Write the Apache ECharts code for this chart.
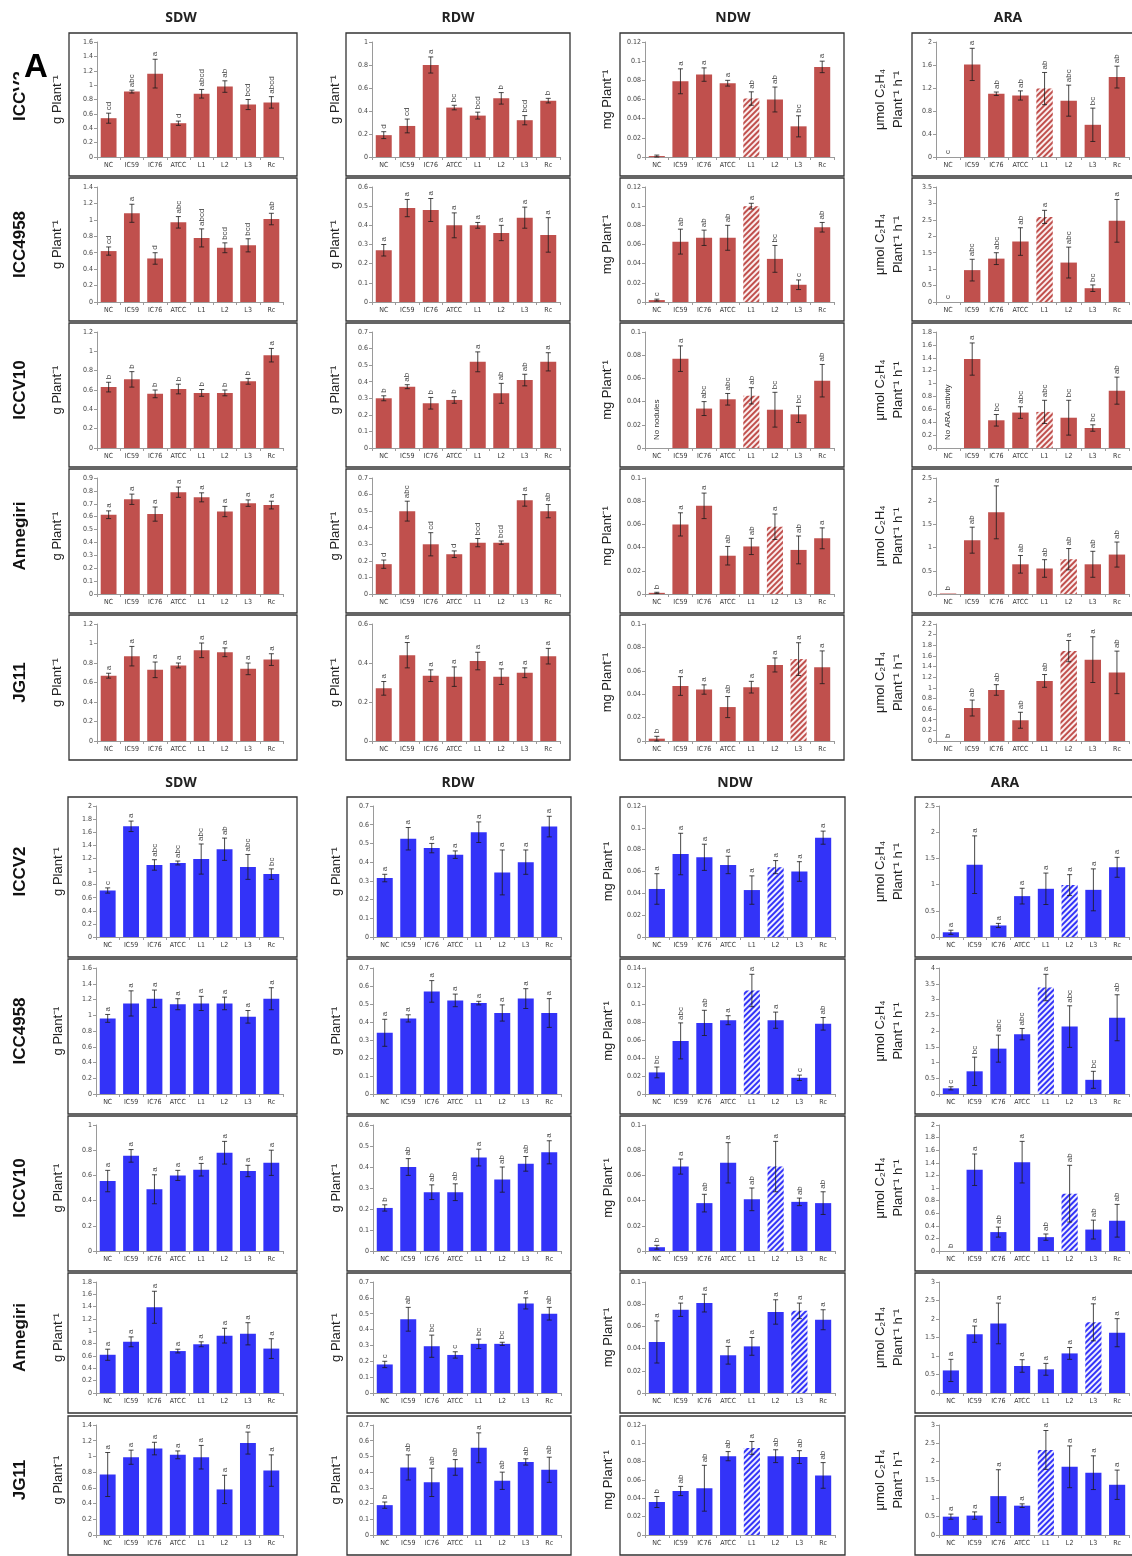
<!DOCTYPE html>
<html>
<head>
<meta charset="utf-8">
<script src="https://cdn.jsdelivr.net/npm/echarts@6/dist/echarts.min.js"></script>
<style>
html,body{margin:0;padding:0;background:#fff;}
#chart{width:1132px;height:1556px;}
</style>
</head>
<body>
<div id="chart"></div>
<script>
// Treatments on every x axis
const categories = ['NC', 'IC59', 'IC76', 'ATCC', 'L1', 'L2', 'L3', 'Rc'];
const genotypes = ['ICCV2', 'ICC4958', 'ICCV10', 'Annegiri', 'JG11'];
const traits = ['SDW', 'RDW', 'NDW', 'ARA'];

// ---------- upper block (red) : one row per genotype ----------
const sdwTopMean = [
  [0.54, 0.91, 1.16, 0.47, 0.88, 0.98, 0.73, 0.76],
  [0.62, 1.08, 0.53, 0.97, 0.78, 0.66, 0.69, 1.01],
  [0.63, 0.71, 0.56, 0.61, 0.57, 0.57, 0.69, 0.96],
  [0.615, 0.735, 0.62, 0.79, 0.75, 0.64, 0.705, 0.69],
  [0.67, 0.87, 0.73, 0.775, 0.93, 0.91, 0.74, 0.835]
];
const sdwTopErr = [
  [0.07, 0.02, 0.2, 0.03, 0.06, 0.08, 0.07, 0.08],
  [0.05, 0.11, 0.07, 0.07, 0.11, 0.06, 0.08, 0.07],
  [0.05, 0.08, 0.04, 0.05, 0.035, 0.03, 0.03, 0.07],
  [0.03, 0.04, 0.055, 0.04, 0.035, 0.04, 0.025, 0.03],
  [0.025, 0.1, 0.08, 0.025, 0.075, 0.045, 0.06, 0.06]
];
const sdwTopSig = [
  ['cd', 'abc', 'a', 'd', 'abcd', 'ab', 'bcd', 'abcd'],
  ['cd', 'a', 'd', 'abc', 'abcd', 'bcd', 'bcd', 'ab'],
  ['b', 'b', 'b', 'b', 'b', 'b', 'b', 'a'],
  ['a', 'a', 'a', 'a', 'a', 'a', 'a', 'a'],
  ['a', 'a', 'a', 'a', 'a', 'a', 'a', 'a']
];

const rdwTopMean = [
  [0.19, 0.27, 0.80, 0.43, 0.36, 0.51, 0.32, 0.49],
  [0.27, 0.49, 0.48, 0.40, 0.40, 0.36, 0.44, 0.35],
  [0.30, 0.37, 0.27, 0.29, 0.52, 0.33, 0.41, 0.52],
  [0.18, 0.50, 0.30, 0.24, 0.31, 0.31, 0.565, 0.50],
  [0.27, 0.44, 0.335, 0.33, 0.41, 0.33, 0.35, 0.435]
];
const rdwTopErr = [
  [0.03, 0.06, 0.07, 0.02, 0.03, 0.05, 0.04, 0.02],
  [0.03, 0.045, 0.06, 0.065, 0.015, 0.04, 0.055, 0.09],
  [0.015, 0.012, 0.035, 0.02, 0.06, 0.06, 0.035, 0.055],
  [0.025, 0.06, 0.07, 0.02, 0.025, 0.01, 0.035, 0.04],
  [0.035, 0.065, 0.03, 0.05, 0.045, 0.04, 0.025, 0.04]
];
const rdwTopSig = [
  ['d', 'cd', 'a', 'bc', 'bcd', 'b', 'bcd', 'b'],
  ['a', 'a', 'a', 'a', 'a', 'a', 'a', 'a'],
  ['b', 'ab', 'b', 'b', 'a', 'ab', 'ab', 'a'],
  ['d', 'abc', 'cd', 'd', 'bcd', 'bcd', 'a', 'ab'],
  ['a', 'a', 'a', 'a', 'a', 'a', 'a', 'a']
];

const ndwTopMean = [
  [0.001, 0.079, 0.086, 0.077, 0.061, 0.060, 0.032, 0.094],
  [0.002, 0.063, 0.067, 0.067, 0.100, 0.045, 0.018, 0.078],
  [0, 0.077, 0.034, 0.042, 0.045, 0.033, 0.029, 0.058],
  [0.001, 0.060, 0.076, 0.033, 0.041, 0.058, 0.038, 0.048],
  [0.002, 0.047, 0.044, 0.029, 0.046, 0.065, 0.070, 0.063]
];
const ndwTopErr = [
  [0.001, 0.013, 0.007, 0.003, 0.007, 0.013, 0.011, 0.006],
  [0.001, 0.013, 0.008, 0.013, 0.003, 0.014, 0.005, 0.005],
  [0, 0.011, 0.006, 0.005, 0.007, 0.015, 0.007, 0.014],
  [0.0005, 0.01, 0.011, 0.008, 0.007, 0.011, 0.012, 0.009],
  [0.002, 0.008, 0.004, 0.009, 0.005, 0.006, 0.014, 0.014]
];
const ndwTopSig = [
  ['', 'a', 'a', 'a', 'ab', 'ab', 'bc', 'a'],
  ['c', 'ab', 'ab', 'ab', 'a', 'bc', 'c', 'ab'],
  ['', 'a', 'abc', 'abc', 'ab', 'bc', 'bc', 'ab'],
  ['b', 'a', 'a', 'ab', 'ab', 'a', 'ab', 'a'],
  ['b', 'a', 'a', 'ab', 'a', 'a', 'a', 'a']
];
const ndwTopHatch = [4, 4, 4, 5, 6];
const ndwTopNote = ['', '', 'No nodules', '', ''];

const araTopMean = [
  [0, 1.61, 1.10, 1.07, 1.19, 0.98, 0.56, 1.39],
  [0, 0.97, 1.32, 1.84, 2.59, 1.20, 0.42, 2.47],
  [0, 1.38, 0.43, 0.55, 0.56, 0.47, 0.31, 0.89],
  [0.01, 1.16, 1.76, 0.64, 0.55, 0.75, 0.64, 0.85],
  [0, 0.62, 0.96, 0.39, 1.13, 1.69, 1.53, 1.29]
];
const araTopErr = [
  [0, 0.28, 0.03, 0.08, 0.28, 0.27, 0.29, 0.19],
  [0, 0.33, 0.18, 0.42, 0.2, 0.47, 0.1, 0.65],
  [0, 0.25, 0.09, 0.09, 0.18, 0.27, 0.05, 0.21],
  [0, 0.28, 0.57, 0.19, 0.19, 0.23, 0.28, 0.27],
  [0, 0.15, 0.1, 0.15, 0.12, 0.2, 0.43, 0.4]
];
const araTopSig = [
  ['c', 'a', 'ab', 'ab', 'ab', 'abc', 'bc', 'ab'],
  ['c', 'abc', 'abc', 'ab', 'a', 'abc', 'bc', 'a'],
  ['', 'a', 'bc', 'abc', 'abc', 'bc', 'bc', 'ab'],
  ['b', 'ab', 'a', 'ab', 'ab', 'ab', 'ab', 'ab'],
  ['b', 'ab', 'ab', 'ab', 'ab', 'a', 'a', 'ab']
];
const araTopHatch = [4, 4, 4, 5, 5];
const araTopNote = ['', '', 'No ARA activity', '', ''];

// axis maximum and tick step per row, columns SDW / RDW / NDW / ARA
const topAxisMax = [
  [1.6, 1, 0.12, 2],
  [1.4, 0.6, 0.12, 3.5],
  [1.2, 0.7, 0.1, 1.8],
  [0.9, 0.7, 0.1, 2.5],
  [1.2, 0.6, 0.1, 2.2]
];
const topAxisStep = [
  [0.2, 0.2, 0.02, 0.4],
  [0.2, 0.1, 0.02, 0.5],
  [0.2, 0.1, 0.02, 0.2],
  [0.1, 0.1, 0.02, 0.5],
  [0.2, 0.2, 0.02, 0.2]
];

// ---------- lower block (blue) ----------
const sdwBotMean = [
  [0.71, 1.69, 1.10, 1.13, 1.19, 1.34, 1.07, 0.96],
  [0.96, 1.15, 1.21, 1.14, 1.15, 1.15, 0.98, 1.21],
  [0.555, 0.755, 0.49, 0.60, 0.645, 0.78, 0.635, 0.70],
  [0.62, 0.83, 1.39, 0.68, 0.79, 0.93, 0.96, 0.72],
  [0.77, 0.99, 1.10, 1.02, 0.99, 0.58, 1.17, 0.82]
];
const sdwBotErr = [
  [0.04, 0.08, 0.08, 0.03, 0.23, 0.17, 0.19, 0.08],
  [0.05, 0.16, 0.11, 0.07, 0.09, 0.08, 0.08, 0.14],
  [0.085, 0.05, 0.115, 0.04, 0.05, 0.09, 0.045, 0.1],
  [0.09, 0.08, 0.26, 0.03, 0.04, 0.12, 0.18, 0.16],
  [0.28, 0.09, 0.08, 0.05, 0.15, 0.18, 0.14, 0.2]
];
const sdwBotSig = [
  ['c', 'a', 'abc', 'abc', 'abc', 'ab', 'abc', 'bc'],
  ['a', 'a', 'a', 'a', 'a', 'a', 'a', 'a'],
  ['a', 'a', 'a', 'a', 'a', 'a', 'a', 'a'],
  ['a', 'a', 'a', 'a', 'a', 'a', 'a', 'a'],
  ['a', 'a', 'a', 'a', 'a', 'a', 'a', 'a']
];

const rdwBotMean = [
  [0.315, 0.525, 0.475, 0.44, 0.56, 0.345, 0.40, 0.59],
  [0.34, 0.42, 0.57, 0.52, 0.505, 0.45, 0.53, 0.45],
  [0.205, 0.40, 0.28, 0.28, 0.445, 0.34, 0.415, 0.47],
  [0.18, 0.465, 0.295, 0.24, 0.31, 0.31, 0.565, 0.50],
  [0.19, 0.43, 0.335, 0.43, 0.555, 0.345, 0.465, 0.415]
];
const rdwBotErr = [
  [0.02, 0.06, 0.025, 0.02, 0.055, 0.12, 0.065, 0.055],
  [0.075, 0.02, 0.06, 0.035, 0.01, 0.045, 0.055, 0.08],
  [0.015, 0.04, 0.035, 0.04, 0.04, 0.06, 0.035, 0.055],
  [0.02, 0.075, 0.07, 0.02, 0.03, 0.01, 0.035, 0.04],
  [0.02, 0.08, 0.09, 0.05, 0.095, 0.055, 0.02, 0.08]
];
const rdwBotSig = [
  ['a', 'a', 'a', 'a', 'a', 'a', 'a', 'a'],
  ['a', 'a', 'a', 'a', 'a', 'a', 'a', 'a'],
  ['b', 'ab', 'ab', 'ab', 'a', 'ab', 'ab', 'a'],
  ['c', 'ab', 'bc', 'c', 'bc', 'bc', 'a', 'ab'],
  ['b', 'ab', 'ab', 'ab', 'a', 'ab', 'ab', 'ab']
];

const ndwBotMean = [
  [0.044, 0.076, 0.073, 0.066, 0.043, 0.064, 0.060, 0.091],
  [0.024, 0.059, 0.079, 0.082, 0.115, 0.082, 0.018, 0.078],
  [0.003, 0.067, 0.038, 0.070, 0.041, 0.067, 0.039, 0.038],
  [0.046, 0.075, 0.081, 0.034, 0.042, 0.073, 0.074, 0.066],
  [0.036, 0.048, 0.051, 0.086, 0.095, 0.086, 0.085, 0.065]
];
const ndwBotErr = [
  [0.014, 0.019, 0.012, 0.008, 0.013, 0.006, 0.009, 0.006],
  [0.006, 0.02, 0.014, 0.005, 0.018, 0.009, 0.003, 0.007],
  [0.0015, 0.006, 0.007, 0.016, 0.009, 0.02, 0.003, 0.009],
  [0.019, 0.006, 0.008, 0.008, 0.008, 0.011, 0.007, 0.009],
  [0.006, 0.005, 0.025, 0.005, 0.007, 0.007, 0.007, 0.014]
];
const ndwBotSig = [
  ['a', 'a', 'a', 'a', 'a', 'a', 'a', 'a'],
  ['bc', 'abc', 'ab', 'a', 'a', 'a', 'c', 'ab'],
  ['b', 'a', 'ab', 'a', 'ab', 'a', 'ab', 'ab'],
  ['a', 'a', 'a', 'a', 'a', 'a', 'a', 'a'],
  ['b', 'ab', 'ab', 'ab', 'a', 'ab', 'ab', 'ab']
];
const ndwBotHatch = [5, 4, 5, 6, 4];

const araBotMean = [
  [0.09, 1.38, 0.22, 0.78, 0.92, 0.99, 0.90, 1.33],
  [0.18, 0.72, 1.44, 1.90, 3.38, 2.14, 0.45, 2.42],
  [0, 1.29, 0.30, 1.41, 0.22, 0.91, 0.34, 0.48],
  [0.61, 1.59, 1.88, 0.73, 0.64, 1.07, 1.91, 1.63],
  [0.50, 0.53, 1.06, 0.80, 2.32, 1.86, 1.70, 1.37]
];
const araBotErr = [
  [0.04, 0.55, 0.04, 0.15, 0.3, 0.2, 0.4, 0.19],
  [0.05, 0.45, 0.43, 0.18, 0.42, 0.66, 0.27, 0.73],
  [0, 0.25, 0.08, 0.33, 0.05, 0.45, 0.15, 0.26],
  [0.3, 0.22, 0.55, 0.17, 0.16, 0.16, 0.5, 0.38],
  [0.07, 0.1, 0.72, 0.05, 0.53, 0.57, 0.46, 0.4]
];
const araBotSig = [
  ['a', 'a', 'a', 'a', 'a', 'a', 'a', 'a'],
  ['c', 'bc', 'abc', 'abc', 'a', 'abc', 'bc', 'ab'],
  ['b', 'a', 'ab', 'a', 'ab', 'ab', 'ab', 'ab'],
  ['a', 'a', 'a', 'a', 'a', 'a', 'a', 'a'],
  ['a', 'a', 'a', 'a', 'a', 'a', 'a', 'a']
];
const araBotHatch = [5, 4, 5, 6, 4];

const botAxisMax = [
  [2, 0.7, 0.12, 2.5],
  [1.6, 0.7, 0.14, 4],
  [1, 0.6, 0.1, 2],
  [1.8, 0.7, 0.1, 3],
  [1.4, 0.7, 0.12, 3]
];
const botAxisStep = [
  [0.2, 0.1, 0.02, 0.5],
  [0.2, 0.1, 0.02, 0.5],
  [0.2, 0.1, 0.02, 0.2],
  [0.2, 0.1, 0.02, 0.5],
  [0.2, 0.1, 0.02, 0.5]
];

// ---------- page layout ----------
const colBoxTop = [[69, 297], [346, 570], [620, 844], [912, 1140]];
const colBoxBot = [[68, 297], [347, 571], [620, 845], [915, 1140]];
const rowBoxTop = [[33, 176], [178, 321], [323, 467], [469, 613], [615, 760]];
const rowBoxBot = [[797, 957], [959, 1114], [1116, 1271], [1273, 1413], [1416, 1555]];
const plotLeftPad = [28, 26, 25, 24];
const plotRightEdge = [
  [283, 560, 834, 1129],
  [283, 561, 835, 1129]
];
const titleX = [[181, 458, 733, 1008], [181, 458, 735, 1005]];
const yNames = ['g Plant\u207B\u00B9', 'g Plant\u207B\u00B9', 'mg Plant\u207B\u00B9'];

const sections = [
  {
    color: '#c0504d', hatchBg: '#fbeeee', rows: rowBoxTop, cols: colBoxTop, titleY: 18,
    padTop: 9, padBot: 19,
    mean: [sdwTopMean, rdwTopMean, ndwTopMean, araTopMean],
    err: [sdwTopErr, rdwTopErr, ndwTopErr, araTopErr],
    sig: [sdwTopSig, rdwTopSig, ndwTopSig, araTopSig],
    hatch: [null, null, ndwTopHatch, araTopHatch],
    note: [null, null, ndwTopNote, araTopNote],
    axMax: topAxisMax, axStep: topAxisStep,
    yNameOff: [-12, -11, -13], araNameOff: [-32, -14]
  },
  {
    color: '#3333f8', hatchBg: '#eeeefe', rows: rowBoxBot, cols: colBoxBot, titleY: 783,
    padTop: 9, padBot: 20,
    mean: [sdwBotMean, rdwBotMean, ndwBotMean, araBotMean],
    err: [sdwBotErr, rdwBotErr, ndwBotErr, araBotErr],
    sig: [sdwBotSig, rdwBotSig, ndwBotSig, araBotSig],
    hatch: [null, null, ndwBotHatch, araBotHatch],
    note: [null, null, null, null],
    axMax: botAxisMax, axStep: botAxisStep,
    yNameOff: [-10, -11, -12], araNameOff: [-35, -17]
  }
];

const FONT = '"Liberation Sans", Arial, sans-serif';
const NARROW = '"Liberation Sans Narrow", "DejaVu Sans Condensed", "Liberation Sans", sans-serif';

// error bars, significance letters and notes drawn on top of the bars
function makeMarks(sig, note) {
  return function (params, api) {
    const i = params.dataIndex;
    const m = api.value(1);
    const e = api.value(2);
    const pTop = api.coord([i, m + e]);
    const pBot = api.coord([i, Math.max(0, m - e)]);
    const x = pTop[0];
    const ink = { stroke: '#1a1a1a', lineWidth: 0.8 };
    const kids = [];
    if (e > 0) {
      kids.push({ type: 'line', shape: { x1: x, y1: pTop[1], x2: x, y2: pBot[1] }, style: ink });
      kids.push({ type: 'line', shape: { x1: x - 2.5, y1: pTop[1], x2: x + 2.5, y2: pTop[1] }, style: ink });
      kids.push({ type: 'line', shape: { x1: x - 2.5, y1: pBot[1], x2: x + 2.5, y2: pBot[1] }, style: ink });
    }
    if (sig[i]) {
      kids.push({
        type: 'text', x: x, y: pTop[1] - 3, rotation: Math.PI / 2,
        style: { text: sig[i], font: '8px ' + FONT, fill: '#444',
                 align: 'left', verticalAlign: 'middle', textAlign: 'left', textVerticalAlign: 'middle' }
      });
    }
    if (note && i === 0) {
      const base = api.coord([i, 0]);
      kids.push({
        type: 'text', x: x, y: base[1] - 8, rotation: Math.PI / 2,
        style: { text: note, font: '8px ' + FONT, fill: '#333',
                 align: 'left', verticalAlign: 'middle', textAlign: 'left', textVerticalAlign: 'middle' }
      });
    }
    return { type: 'group', children: kids };
  };
}

const grids = [], xAxes = [], yAxes = [], series = [], elements = [];
let k = 0;

sections.forEach(function (sec, s) {
  // column titles
  traits.forEach(function (t, c) {
    elements.push({
      type: 'text', x: titleX[s][c], y: sec.titleY,
      style: { text: t, font: 'bold 14px "Open Sans", "Liberation Sans", sans-serif', fill: '#222',
               align: 'center', verticalAlign: 'middle', textAlign: 'center', textVerticalAlign: 'middle' }
    });
  });

  sec.rows.forEach(function (rb, r) {
    const gTop = rb[0] + sec.padTop;
    const gBot = rb[1] - sec.padBot;
    const gMid = (gTop + gBot) / 2;

    // genotype label on the left
    elements.push({
      type: 'text', x: 20, y: (s === 0 && r === 0) ? 96 : gMid, rotation: Math.PI / 2,
      style: { text: genotypes[r], font: 'bold 17px ' + FONT, fill: '#111',
               align: 'center', verticalAlign: 'middle', textAlign: 'center', textVerticalAlign: 'middle' }
    });

    traits.forEach(function (t, c) {
      const cb = sec.cols[c];
      const left = cb[0] + plotLeftPad[c];
      const right = plotRightEdge[s][c];

      // panel frame
      elements.push({
        type: 'rect', shape: { x: cb[0], y: rb[0], width: cb[1] - cb[0], height: rb[1] - rb[0] },
        style: { fill: 'none', stroke: '#333', lineWidth: 1.3 }
      });

      // y axis names
      if (c < 3) {
        elements.push({
          type: 'text', x: cb[0] + sec.yNameOff[c], y: gMid, rotation: Math.PI / 2,
          style: { text: yNames[c], font: '13px ' + FONT, fill: '#222',
                   align: 'center', verticalAlign: 'middle', textAlign: 'center', textVerticalAlign: 'middle' }
        });
      } else {
        ['\u03BCmol C\u2082H\u2084', 'Plant\u207B\u00B9 h\u207B\u00B9'].forEach(function (line, li) {
          elements.push({
            type: 'text', x: cb[0] + sec.araNameOff[li], y: gMid, rotation: Math.PI / 2,
            style: { text: line, font: '13px ' + FONT, fill: '#222',
                     align: 'center', verticalAlign: 'middle', textAlign: 'center', textVerticalAlign: 'middle' }
          });
        });
      }

      grids.push({ left: left, top: gTop, width: right - left, height: gBot - gTop, containLabel: false });
      xAxes.push({
        type: 'category', gridIndex: k, data: categories,
        axisLine: { show: true, lineStyle: { color: '#9a9a9a', width: 1 } },
        axisTick: { show: true, length: 3, lineStyle: { color: '#9a9a9a' } },
        axisLabel: { interval: 0, fontSize: 7, color: '#333', margin: 5, fontFamily: NARROW }
      });
      yAxes.push({
        type: 'value', gridIndex: k, min: 0, max: sec.axMax[r][c], interval: sec.axStep[r][c],
        axisLine: { show: true, lineStyle: { color: '#9a9a9a', width: 1 } },
        axisTick: { show: true, length: 3, lineStyle: { color: '#9a9a9a' } },
        splitLine: { show: false },
        axisLabel: { fontSize: 7, color: '#444', margin: 4, fontFamily: NARROW }
      });

      const means = sec.mean[c][r];
      const errs = sec.err[c][r];
      const hatchIdx = sec.hatch[c] ? sec.hatch[c][r] : -1;
      series.push({
        type: 'bar', xAxisIndex: k, yAxisIndex: k, barWidth: '68%', silent: true,
        itemStyle: { color: sec.color },
        data: means.map(function (v, i) {
          if (i !== hatchIdx) return v;
          return {
            value: v,
            itemStyle: {
              color: sec.hatchBg,
              decal: {
                symbol: 'rect', symbolSize: 1, color: sec.color,
                dashArrayX: [1, 0], dashArrayY: [1.1, 1.1], rotation: -Math.PI / 4
              }
            }
          };
        })
      });
      series.push({
        type: 'custom', xAxisIndex: k, yAxisIndex: k, silent: true, z: 5,
        renderItem: makeMarks(sec.sig[c][r], sec.note[c] ? sec.note[c][r] : ''),
        data: means.map(function (v, i) { return [i, v, errs[i]]; })
      });
      k++;
    });
  });
});

// panel letter, laid over the top of the first genotype label
elements.push({
  type: 'text', x: 36, y: 68, z: 10,
  style: { text: 'A', font: 'bold 33px ' + FONT, fill: '#000', backgroundColor: '#fff',
           padding: [2, 5, 8, 5],
           align: 'center', verticalAlign: 'middle', textAlign: 'center', textVerticalAlign: 'middle' }
});

const chart = echarts.init(document.getElementById('chart'));
chart.setOption({
  animation: false,
  backgroundColor: '#fff',
  grid: grids,
  xAxis: xAxes,
  yAxis: yAxes,
  series: series,
  graphic: { elements: elements }
});
</script>
</body>
</html>
